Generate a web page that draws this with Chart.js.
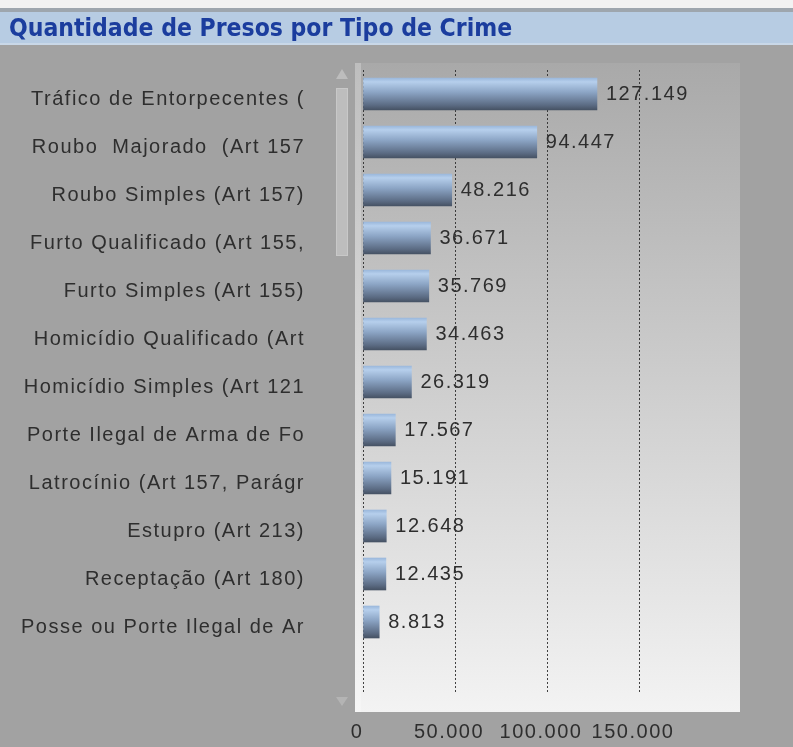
<!DOCTYPE html>
<html>
<head>
<meta charset="utf-8">
<script src="https://cdn.jsdelivr.net/npm/chart.js@4.4.0/dist/chart.umd.min.js"></script>
<style>
  html, body { margin: 0; padding: 0; background: #a2a2a2; }
  #wrap { width: 793px; height: 747px; }
</style>
</head>
<body>
<div id="wrap"><canvas id="presosChart" width="793" height="747"></canvas></div>
<script>
const titulo = 'Quantidade de Presos por Tipo de Crime';

const crimes = [
    'Tráfico de Entorpecentes (',
    'Roubo  Majorado  (Art 157',
    'Roubo Simples (Art 157)',
    'Furto Qualificado (Art 155,',
    'Furto Simples (Art 155)',
    'Homicídio Qualificado (Art',
    'Homicídio Simples (Art 121',
    'Porte Ilegal de Arma de Fo',
    'Latrocínio (Art 157, Parágr',
    'Estupro (Art 213)',
    'Receptação (Art 180)',
    'Posse ou Porte Ilegal de Ar'
];

const presos = [127149, 94447, 48216, 36671, 35769, 34463, 26319, 17567, 15191, 12648, 12435, 8813];

const xTicks = [0, 50000, 100000, 150000];
const xMax = 200000;

function formatNum(v) {
    return v.toString().replace(/\B(?=(\d{3})+(?!\d))/g, '.');
}

// gradient per bar, so each one gets the light top / dark bottom look
function barGradient(context) {
    const chart = context.chart;
    if (!chart.chartArea) return '#7d96b6';
    const yc = chart.scales.y.getPixelForValue(context.dataIndex);
    const g = chart.ctx.createLinearGradient(0, yc - 16, 0, yc + 16);
    g.addColorStop(0, '#9bb8dc');
    g.addColorStop(0.12, '#b6cfec');
    g.addColorStop(0.45, '#8ba4c4');
    g.addColorStop(0.85, '#5b6b83');
    g.addColorStop(1, '#465264');
    return g;
}

const fundoPlugin = {
    id: 'fundo',
    beforeDraw(chart) {
        const ctx = chart.ctx;
        const a = chart.chartArea;
        ctx.save();
        ctx.letterSpacing = '0px';
        ctx.fillStyle = '#a2a2a2';
        ctx.fillRect(0, 0, chart.width, chart.height);

        // title bar
        ctx.fillStyle = '#f2f2f2';
        ctx.fillRect(0, 0, chart.width, 8);
        ctx.fillStyle = '#9ea6ae';
        ctx.fillRect(0, 8, chart.width, 4);
        ctx.fillStyle = '#b7cce3';
        ctx.fillRect(0, 12, chart.width, 31);
        ctx.fillStyle = '#c9d8e8';
        ctx.fillRect(0, 43, chart.width, 2);
        ctx.fillStyle = '#1b3d9e';
        ctx.font = 'bold 24.5px "DejaVu Sans Condensed", "DejaVu Sans"';
        ctx.textBaseline = 'middle';
        ctx.textAlign = 'left';
        ctx.fillText(titulo, 9, 30);

        // plot background
        const g = ctx.createLinearGradient(0, 63, 0, 712);
        g.addColorStop(0, '#a9a9a9');
        g.addColorStop(1, '#f3f3f3');
        ctx.fillStyle = g;
        ctx.fillRect(a.left - 8, 63, 740 - (a.left - 8), 712 - 63);
        ctx.fillStyle = 'rgba(255,255,255,0.25)';
        ctx.fillRect(a.left - 8, 63, 6, 712 - 63);

        // scrollbar
        ctx.fillStyle = '#bdbdbd';
        ctx.fillRect(336, 88, 12, 168);
        ctx.strokeStyle = '#c8c8c8';
        ctx.strokeRect(336.5, 88.5, 11, 167);
        ctx.beginPath();
        ctx.moveTo(342, 69); ctx.lineTo(348, 79); ctx.lineTo(336, 79);
        ctx.closePath();
        ctx.fill();
        ctx.fillStyle = '#b4b4b4';
        ctx.beginPath();
        ctx.moveTo(342, 706); ctx.lineTo(348, 697); ctx.lineTo(336, 697);
        ctx.closePath();
        ctx.fill();
        ctx.restore();

        ctx.letterSpacing = '1.5px';
    },
    afterDatasetsDraw(chart) {
        const ctx = chart.ctx;
        const meta = chart.getDatasetMeta(0);
        ctx.save();
        ctx.letterSpacing = '1.5px';
        ctx.font = '20px "Liberation Sans", Arial';
        ctx.fillStyle = '#2e2e2e';
        ctx.textAlign = 'left';
        ctx.textBaseline = 'middle';
        meta.data.forEach((bar, i) => {
            if (presos[i] == null) return;
            ctx.fillText(formatNum(presos[i]), bar.x + 9, bar.y);
        });
        ctx.restore();
    }
};

let ctx = document.getElementById('presosChart').getContext('2d');
new Chart(ctx, {
    type: 'bar',
    data: {
        // blank last slot leaves the empty band under the last bar
        labels: crimes.concat(['']),
        datasets: [{
            label: titulo,
            data: presos,
            backgroundColor: barGradient,
            borderWidth: 0,
            barThickness: 32
        }]
    },
    options: {
        indexAxis: 'y',
        responsive: false,
        animation: false,
        layout: { padding: { top: 70, right: 62, left: 0, bottom: 0 } },
        plugins: {
            legend: { display: false },
            tooltip: { enabled: false },
            title: { display: false }
        },
        scales: {
            x: {
                min: 0,
                max: xMax,
                afterBuildTicks: s => { s.ticks = xTicks.map(v => ({ value: v })); },
                afterFit: s => { s.height = 53; s.paddingLeft = 0; s.paddingRight = 0; },
                border: { display: false, dash: [2, 2] },
                grid: {
                    color: 'rgba(45,45,45,0.9)',
                    lineWidth: 1,
                    drawTicks: false
                },
                ticks: {
                    padding: 26,
                    labelOffset: -6,
                    color: '#2e2e2e',
                    font: { family: '"Liberation Sans", Arial', size: 20 },
                    callback: v => formatNum(v)
                }
            },
            y: {
                afterFit: s => { s.width = 363; s.paddingTop = 0; s.paddingBottom = 0; },
                border: { display: false },
                grid: { display: false },
                ticks: {
                    autoSkip: false,
                    padding: 50,
                    labelOffset: 5,
                    color: '#2e2e2e',
                    font: { family: '"Liberation Sans", Arial', size: 20 }
                }
            }
        }
    },
    plugins: [fundoPlugin]
});
</script>
</body>
</html>
